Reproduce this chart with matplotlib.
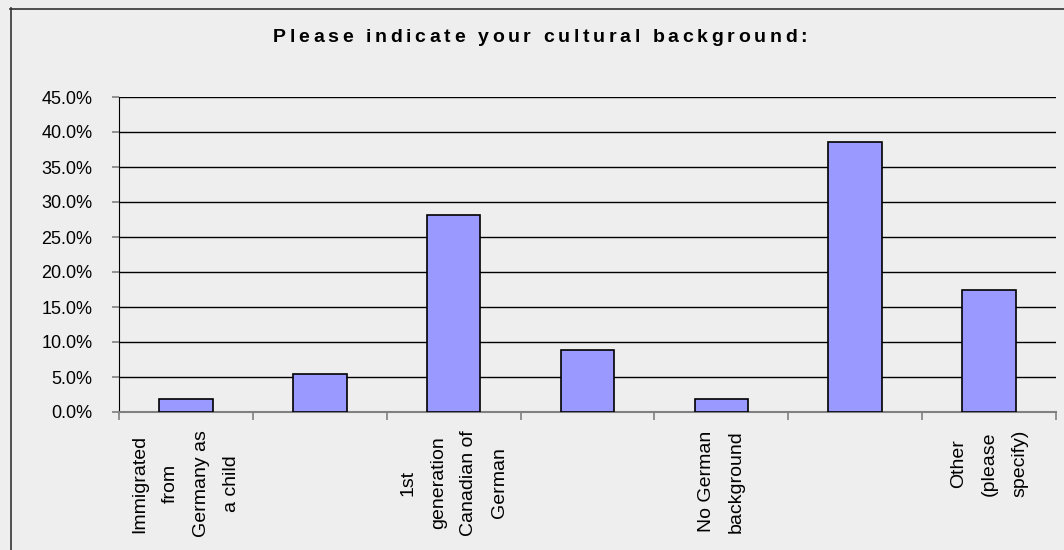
import matplotlib.pyplot as plt
import numpy as np
from matplotlib.lines import Line2D
from matplotlib.font_manager import FontProperties, fontManager

plt.rcParams['font.family'] = ['Liberation Sans', 'DejaVu Sans']

title = "Please indicate your cultural background:"
# only every other category name is printed under the axis
labels = [
    "Immigrated\nfrom\nGermany as\na child",
    "",
    "1st\ngeneration\nCanadian of\nGerman",
    "",
    "No German\nbackground",
    "",
    "Other\n(please\nspecify)",
]
shares = [1.8, 5.4, 28.1, 8.8, 1.8, 38.6, 17.5]
yticks = [0, 5, 10, 15, 20, 25, 30, 35, 40, 45]

W, H = 1064, 550
bg = '#eeeeee'

fig = plt.figure(figsize=(W / 100, H / 100), dpi=100, facecolor=bg)
ax = fig.add_axes([119 / W, 1 - 412 / H, (1056 - 119) / W, (412 - 97) / H])
ax.set_facecolor(bg)

x = np.arange(len(shares))
ax.bar(x, shares, width=0.4, color='#9999ff', edgecolor='black', linewidth=1.2, zorder=3)

ax.set_xlim(-0.5, len(shares) - 0.5)
ax.set_ylim(0, 45)
ax.set_yticks(yticks)
ax.set_yticklabels([f'{v:.1f}%' for v in yticks], fontsize=13)
ax.yaxis.grid(True, color='black', linewidth=1)
ax.set_axisbelow(True)

# tick marks sit on the category boundaries, names on the centres
ax.set_xticks(np.arange(-0.5, len(shares), 1))
ax.set_xticklabels([])
ax.set_xticks(x, labels, minor=True)
ax.tick_params(axis='x', which='major', direction='out', length=6, width=1.2, color='#808080')
ax.tick_params(axis='x', which='minor', length=0, pad=13, labelsize=14)
ax.tick_params(axis='y', direction='out', length=5, width=1.2, color='#808080', pad=14)
for t in ax.get_xticklabels(minor=True):
    t.set_rotation(90)
    t.set_va('top')
    t.set_ha('center')
    t.set_multialignment('center')
    t.set_linespacing(2.05)

for side in ('top', 'right'):
    ax.spines[side].set_visible(False)
ax.spines['left'].set_color('black')
ax.spines['bottom'].set_color('#808080')
ax.spines['bottom'].set_linewidth(1.5)

# letter-spaced title: place each character with extra tracking
names = {f.name for f in fontManager.ttflist}
tfam = 'Liberation Sans Narrow' if 'Liberation Sans Narrow' in names else 'Liberation Sans'
prop = FontProperties(family=tfam, weight='bold', size=14)
renderer = fig.canvas.get_renderer()
widths = []
for ch in title:
    w, _, _ = renderer.get_text_width_height_descent(ch if ch != ' ' else 'i', prop, ismath=False)
    widths.append(w)
target = 534
track = (target - sum(widths)) / (len(title) - 1)
xpos = 540 - target / 2
for ch, w in zip(title, widths):
    if ch != ' ':
        fig.text(xpos / W, 1 - 42 / H, ch, ha='left', va='baseline', fontproperties=prop)
    xpos += w + track

# outer frame (only top and left edges fall inside the image)
fig.add_artist(Line2D([10 / W, 1], [1 - 8.5 / H] * 2, transform=fig.transFigure, color='#333333', lw=1.2))
fig.add_artist(Line2D([10.5 / W] * 2, [0, 1 - 8 / H], transform=fig.transFigure, color='#333333', lw=1.2))

fig.savefig('out.png', dpi=100, facecolor=bg)
